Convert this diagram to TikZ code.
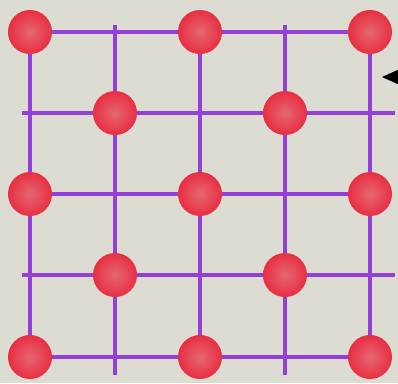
\documentclass[tikz,border=0pt]{standalone}
\definecolor{paper}{RGB}{221,220,210}
\definecolor{gridline}{RGB}{148,64,214}
\definecolor{atomedge}{RGB}{232,46,66}
\definecolor{atomcore}{RGB}{228,104,112}
\tikzset{
  grid line/.style={gridline,line width=0.1cm},
  atom/.style={circle,inner sep=0pt,minimum size=1.1cm,shading=radial,inner color=atomcore,outer color=atomedge}
}
\begin{document}
\begin{tikzpicture}[x=0.025cm,y=-0.025cm]
\fill[paper] (0,0) rectangle (398,383);
\useasboundingbox (0,0) rectangle (398,383);
\foreach \r/\y/\a/\b in {1/32/30/392,2/113/22/395,3/194/30/392,4/275/22/395,5/357/30/392}{
  \coordinate (row\r w) at (\a,\y);
  \coordinate (row\r e) at (\b,\y);
  \draw[grid line] (row\r w) -- (row\r e);
}
\foreach \c/\x/\a/\b in {1/30/32/357,2/115/25/375,3/200/32/357,4/285/25/375,5/370/32/357}{
  \coordinate (col\c n) at (\x,\a);
  \coordinate (col\c s) at (\x,\b);
  \draw[grid line] (col\c n) -- (col\c s);
}
\foreach \x/\y/\n in {30/32/a11,200/32/a13,370/32/a15,115/113/a22,285/113/a24,30/194/a31,200/194/a33,370/194/a35,115/275/a42,285/275/a44,30/357/a51,200/357/a53,370/357/a55}
  \node[atom] (\n) at (\x,\y) {};
\coordinate (pointer) at (382,77);
\fill (pointer) -- (402,68) -- (402,86) -- cycle;
\end{tikzpicture}
\end{document}
